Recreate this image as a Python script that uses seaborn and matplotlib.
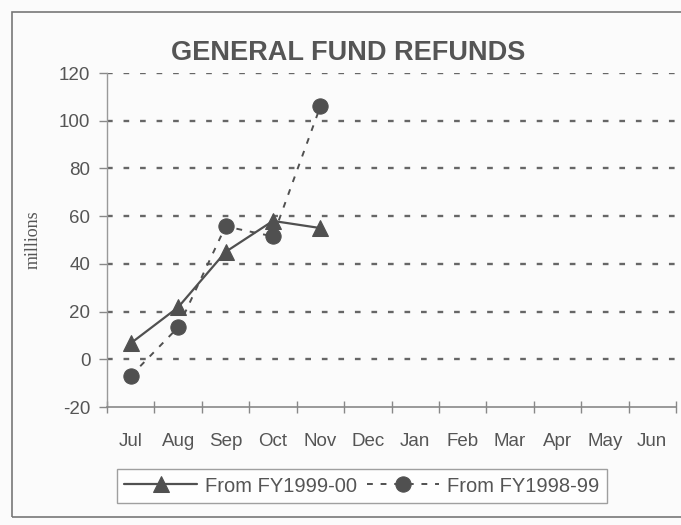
import matplotlib
matplotlib.use("Agg")
import matplotlib.pyplot as plt
import seaborn as sns
import pandas as pd
from matplotlib.patches import Rectangle

months = ["Jul", "Aug", "Sep", "Oct", "Nov", "Dec", "Jan", "Feb", "Mar", "Apr", "May", "Jun"]
fy9900_months = ["Jul", "Aug", "Sep", "Oct", "Nov"]
fy9900 = [6.7, 21.8, 45, 58, 55]
fy9899_months = ["Jul", "Aug", "Sep", "Oct", "Nov"]
fy9899 = [-7, 13.4, 55.7, 51.5, 106]
yticks = [-20, 0, 20, 40, 60, 80, 100, 120]

sns.set_style("white")
plt.rcParams['font.family'] = ['Liberation Sans', 'DejaVu Sans']

df1 = pd.DataFrame({"x": [months.index(m) for m in fy9900_months], "y": fy9900})
df2 = pd.DataFrame({"x": [months.index(m) for m in fy9899_months], "y": fy9899})

fig = plt.figure(figsize=(6.81, 5.25), dpi=100, facecolor="#fbfbfb")
ax = fig.add_axes([107/681, 118/525, 569/681, 334/525])
ax.set_facecolor("#fbfbfb")

txt = "#555555"
for y in yticks[1:]:
    ax.axhline(y, color="#666666", lw=1.7, linestyle=(0, (2.4, 4.6)), zorder=0)

sns.lineplot(data=df1, x="x", y="y", ax=ax, color="#505050", lw=1.6, marker="^",
             markersize=11, markeredgecolor="#505050", label="From FY1999-00")
sns.lineplot(data=df2, x="x", y="y", ax=ax, color="#505050", lw=1.4, marker="o",
             markersize=11, markeredgecolor="#505050", linestyle=(0, (3, 4)),
             label="From FY1998-99")

ax.set_xlim(-0.5, 11.5)
ax.set_ylim(-20, 120)
ax.set_xticks(range(len(months)))
ax.set_xticklabels(months, fontsize=13.5, color=txt)
ax.set_xticks([i - 0.5 for i in range(len(months) + 1)], minor=True)
ax.tick_params(axis="x", which="major", length=0, pad=19)
ax.tick_params(axis="x", which="minor", length=8, direction="inout", color="#888888", width=1, bottom=True)
ax.set_yticks(yticks)
ax.set_yticklabels([str(v) for v in yticks], fontsize=13.5, color=txt)
ax.tick_params(axis="y", length=6, direction="out", color="#888888", width=1, left=True, pad=6)

for s in ["top", "right"]:
    ax.spines[s].set_visible(False)
ax.spines["left"].set_color("#999999")
ax.spines["bottom"].set_color("#888888")
ax.spines["left"].set_linewidth(1)
ax.spines["bottom"].set_linewidth(1.2)
ax.set_xlabel("")
ax.set_ylabel("")

fig.text(33/681, 1 - 240/525, "millions", rotation=90, ha="center", va="center",
         fontsize=13, color=txt, family="Liberation Serif")
fig.text(348/681, 1 - 53/525, "GENERAL FUND REFUNDS", ha="center", va="center",
         fontsize=19.5, fontweight="bold", color="#555555")

leg = ax.legend(loc="center", bbox_to_anchor=(362/681, 1 - 486/525), bbox_transform=fig.transFigure,
                ncol=2, fontsize=14.5, frameon=True, fancybox=False, handlelength=3.6,
                columnspacing=0.5, handletextpad=0.4, borderpad=0.35)
leg.get_frame().set_edgecolor("#888888")
leg.get_frame().set_linewidth(1)
for t in leg.get_texts():
    t.set_color(txt)

fig.patches.append(Rectangle((12/681, 8/525), 680/681, 1 - 20/525, transform=fig.transFigure,
                             fill=False, edgecolor="#777777", lw=1.2))

fig.savefig("out.png", dpi=100, facecolor=fig.get_facecolor())
